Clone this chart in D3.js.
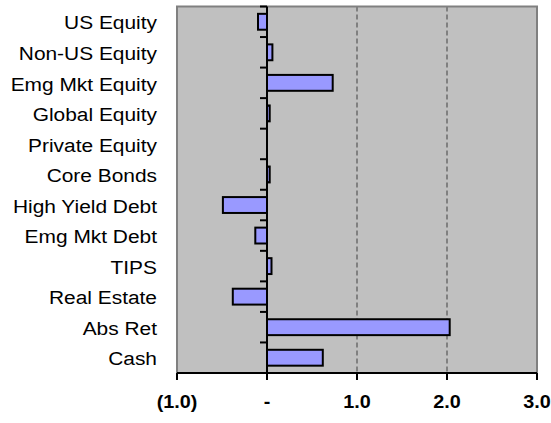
<!DOCTYPE html>
<html>
<head>
<meta charset="utf-8">
<script src="https://cdn.jsdelivr.net/npm/d3@7"></script>
<style>
  body { margin: 0; background: #fff; }
  svg { display: block; font-family: Arial, "Liberation Sans", sans-serif; }
</style>
</head>
<body>
<div id="chart"></div>
<script>
const categories = ['US Equity', 'Non-US Equity', 'Emg Mkt Equity', 'Global Equity', 'Private Equity',
  'Core Bonds', 'High Yield Debt', 'Emg Mkt Debt', 'TIPS', 'Real Estate', 'Abs Ret', 'Cash'];
const values = [-0.10, 0.06, 0.73, 0.03, 0.00, 0.03, -0.49, -0.13, 0.05, -0.38, 2.03, 0.62];
const xTicks = [-1, 0, 1, 2, 3];
const xTickLabels = ['(1.0)', '-', '1.0', '2.0', '3.0'];
const gridValues = [1, 2, 3];

const width = 551;
const height = 423;
const margin = { top: 6.5, right: 14, bottom: 50, left: 177 };

const svg = d3.select('#chart')
  .append('svg')
  .attr('width', width)
  .attr('height', height);

const x = d3.scaleLinear()
  .domain([-1, 3])
  .range([margin.left, width - margin.right]);

const y = d3.scaleBand()
  .domain(categories)
  .range([margin.top, height - margin.bottom])
  .paddingInner(0.48)
  .paddingOuter(0.24);

// plot background
svg.append('rect')
  .attr('x', x(-1))
  .attr('y', margin.top)
  .attr('width', x(3) - x(-1))
  .attr('height', height - margin.bottom - margin.top)
  .attr('fill', '#c0c0c0')
  .attr('stroke', '#808080')
  .attr('stroke-width', 2);

// gridlines
svg.append('g')
  .selectAll('line')
  .data(gridValues)
  .enter()
  .append('line')
  .attr('x1', d => x(d))
  .attr('x2', d => x(d))
  .attr('y1', margin.top)
  .attr('y2', height - margin.bottom)
  .attr('stroke', '#808080')
  .attr('stroke-width', 2)
  .attr('stroke-dasharray', '5,3');

// bars
svg.append('g')
  .selectAll('rect')
  .data(values)
  .enter()
  .append('rect')
  .attr('x', d => x(Math.min(0, d)))
  .attr('y', (d, i) => y(categories[i]))
  .attr('width', d => Math.abs(x(d) - x(0)))
  .attr('height', y.bandwidth())
  .attr('fill', '#9999ff')
  .attr('stroke', '#000')
  .attr('stroke-width', 2)
  .style('display', d => d === 0 ? 'none' : null);

// category axis at zero
const bounds = d3.range(categories.length + 1).map(i => margin.top + i * y.step());
const yAxis = svg.append('g');
yAxis.append('line')
  .attr('x1', x(0)).attr('x2', x(0))
  .attr('y1', margin.top).attr('y2', height - margin.bottom)
  .attr('stroke', '#000').attr('stroke-width', 2);
yAxis.selectAll('.tick')
  .data(bounds)
  .enter()
  .append('line')
  .attr('class', 'tick')
  .attr('x1', x(0) - 7).attr('x2', x(0))
  .attr('y1', d => d).attr('y2', d => d)
  .attr('stroke', '#000').attr('stroke-width', 2);

// category labels (Excel-ish wide text)
svg.append('g')
  .selectAll('text')
  .data(categories)
  .enter()
  .append('text')
  .attr('transform', d => `translate(157,${y(d) + y.bandwidth() / 2 + 1}) scale(1.1,1)`)
  .attr('dy', '0.35em')
  .attr('text-anchor', 'end')
  .attr('font-size', 19)
  .attr('fill', '#000')
  .text(d => d);

// value axis
const xAxis = svg.append('g');
xAxis.append('line')
  .attr('x1', x(-1)).attr('x2', x(3))
  .attr('y1', height - margin.bottom).attr('y2', height - margin.bottom)
  .attr('stroke', '#000').attr('stroke-width', 2);
xAxis.selectAll('.tick')
  .data(xTicks)
  .enter()
  .append('line')
  .attr('class', 'tick')
  .attr('x1', d => x(d)).attr('x2', d => x(d))
  .attr('y1', height - margin.bottom).attr('y2', height - margin.bottom + 7)
  .attr('stroke', '#000').attr('stroke-width', 2);
xAxis.selectAll('text')
  .data(xTicks)
  .enter()
  .append('text')
  .attr('transform', d => `translate(${x(d)},408) scale(1.1,1)`)
  .attr('text-anchor', 'middle')
  .attr('font-size', 18)
  .attr('font-weight', 'bold')
  .attr('fill', '#000')
  .text((d, i) => xTickLabels[i]);
</script>
</body>
</html>
